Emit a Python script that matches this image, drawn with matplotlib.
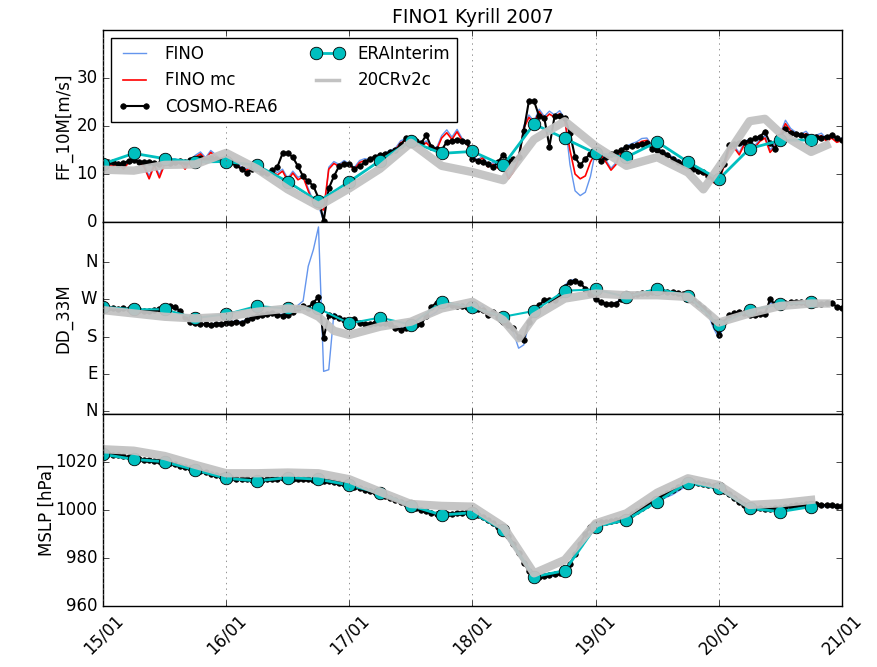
import numpy as np
import pandas as pd
import matplotlib
matplotlib.use('Agg')
import matplotlib.pyplot as plt
import matplotlib.dates as mdates
from matplotlib.lines import Line2D

plt.style.use('classic')
plt.rcParams['axes.formatter.useoffset'] = False

start = pd.Timestamp('2007-01-15 00:00')

# hourly station / COSMO series, 6-hourly reanalyses
hours = np.arange(145)
era_hours = np.arange(0, 139, 6)

fino_mc_ff = [12.3, 12.0, 11.6, 12.2, 11.0, 12.4, 12.8, 12.5, 11.5, 9.0, 11.8, 9.2,
              12.0, 12.5, 12.8, 12.4, 11.0, 12.6, 13.5, 14.2, 13.0, 14.5, 13.6, 12.8,
              12.6, 12.4, 11.8, 11.2, 10.8, 11.5, 10.9, 11.0, 10.0, 10.5, 9.8, 10.6,
              8.6, 10.2, 8.8, 9.4, 6.5, 4.0, 3.0, 2.5, 11.0, 12.2, 11.6, 12.4,
              11.8, 11.0, 12.4, 12.8, 12.6, 13.2, 13.6, 14.0, 14.5, 15.0, 16.5, 17.0,
              16.4, 16.0, 15.8, 16.5, 15.5, 15.0, 17.5, 18.6, 17.2, 18.8, 17.0, 16.2,
              13.5, 12.5, 13.4, 11.5, 12.0, 11.2, 11.8, 9.0, 10.5, 13.0, 19.5, 21.8,
              20.5, 23.0, 21.5, 22.5, 21.8, 22.6, 21.0, 15.0, 10.0, 9.0, 9.6, 12.5,
              14.5, 14.0, 12.5, 10.8, 12.0, 14.8, 15.4, 15.8, 16.2, 16.8, 17.0, 15.5,
              15.0, 14.4, 13.8, 13.2, 12.6, 12.0, 11.4, 11.0, 10.4, 10.0, 9.5, 8.2,
              8.6, 11.5, 15.0, 15.5, 14.0, 16.2, 16.8, 15.5, 16.8, 17.5, 14.5, 15.8,
              18.0, 20.5, 19.0, 18.2, 17.8, 18.4, 17.2, 17.6, 18.0, 16.8, 17.5, 16.6,
              17.0]

fino_ff = [12.6, 12.3, 11.9, 12.5, 11.4, 12.7, 13.1, 12.8, 11.9, 9.6, 12.1, 9.8,
           12.3, 12.8, 13.2, 12.7, 11.5, 12.9, 13.9, 14.6, 13.4, 14.9, 14.0, 13.1,
           12.9, 12.7, 12.1, 11.5, 11.1, 11.8, 11.3, 11.4, 10.4, 10.9, 10.3, 11.0,
           9.1, 10.6, 9.3, 9.8, 7.0, 4.4, 3.3, 0.3, 11.4, 12.6, 12.0, 12.8,
           12.1, 11.4, 12.8, 13.2, 13.0, 13.6, 14.0, 14.4, 14.9, 15.4, 16.9, 17.4,
           16.8, 16.4, 16.2, 16.9, 15.9, 15.4, 18.0, 19.2, 17.7, 19.3, 17.4, 16.6,
           13.9, 12.9, 13.8, 11.9, 12.4, 11.6, 12.2, 9.5, 10.9, 13.4, 20.0, 22.3,
           21.0, 23.5, 22.0, 23.1, 22.3, 23.2, 21.5, 12.0, 6.5, 5.5, 6.2, 9.5,
           14.9, 14.4, 12.9, 11.2, 12.4, 15.2, 15.8, 16.3, 16.7, 17.4, 17.5, 15.9,
           15.4, 14.8, 14.2, 13.6, 13.0, 12.4, 11.8, 11.4, 10.8, 10.4, 9.9, 8.6,
           9.0, 11.9, 15.4, 15.9, 14.4, 16.7, 17.3, 15.9, 17.2, 18.0, 15.0, 16.3,
           18.5, 21.2, 19.5, 18.7, 18.3, 18.9, 17.7, 18.1, 18.5, 17.3, 18.0, 17.1,
           17.5]

cosmo_ff = [12.3, 12.6, 12.4, 12.0, 12.2, 12.8, 13.0, 12.5, 12.4, 12.6, 12.3, 12.0,
            12.4, 12.2, 12.6, 12.8, 12.5, 12.9, 13.2, 13.4, 13.0, 13.3, 13.1, 12.9,
            12.8, 12.5, 11.8, 11.0, 10.3, 11.0, 11.6, 10.5, 10.2, 10.8, 11.5, 14.3,
            14.4, 13.5, 11.6, 9.5, 8.5, 7.5, 5.0, 0.2, 7.0, 9.5, 11.6, 12.0,
            12.1, 11.1, 11.6, 12.4, 13.2, 13.6, 14.0, 14.2, 14.6, 15.0, 16.0, 17.4,
            17.4, 16.8, 16.4, 18.1, 15.6, 15.2, 15.0, 16.7, 16.9, 17.0, 16.8, 16.7,
            13.2, 12.8, 12.5, 12.0, 11.4, 12.5, 14.0, 12.8, 13.2, 13.5, 19.0, 25.2,
            25.2, 22.0, 21.7, 15.7, 22.0, 22.0, 21.7, 18.5, 13.5, 11.8, 13.2, 14.2,
            14.0, 12.8, 13.5, 14.2, 14.6, 15.0, 15.7, 15.8, 16.0, 16.2, 16.4, 15.3,
            15.0, 14.6, 14.0, 13.2, 12.6, 12.1, 11.6, 11.1, 10.7, 10.4, 9.6, 9.0,
            8.9, 12.0, 16.0, 16.2, 16.4, 16.6, 17.0, 17.4, 17.8, 18.8, 16.4, 15.3,
            17.8, 19.3, 18.5, 18.3, 18.1, 18.0, 17.8, 17.8, 17.6, 17.8, 18.1, 17.5,
            17.0]

era_ff = [12.1, 14.3, 13.2, 12.5, 12.6, 11.8, 8.4, 4.3, 8.4, 12.8, 16.8, 14.3,
          14.7, 11.8, 20.4, 17.4, 14.3, 13.5, 16.7, 12.5, 8.9, 15.3, 17.0, 17.1]

cr_ff_hours = [0, 6, 12, 18, 24, 30, 36, 42, 48, 54, 60, 66, 72, 78, 84, 90, 96,
               102, 108, 114, 117, 120, 123, 126, 129, 132, 135, 138, 141]
cr_ff = [10.9, 10.7, 11.9, 12.0, 14.4, 11.1, 6.8, 3.3, 7.0, 11.1, 16.5, 11.7, 10.4,
         8.7, 17.2, 21.0, 15.8, 11.7, 13.5, 10.3, 6.8, 11.4, 16.2, 21.0, 21.5, 18.5,
         16.5, 14.6, 16.0]

# wind direction in degrees
cosmo_dd = [252, 250, 248, 247, 249, 246, 246, 244, 243, 242, 244, 246,
            248, 254, 252, 242, 228, 216, 212, 210, 210, 209, 210, 211,
            212, 214, 216, 212, 220, 226, 230, 232, 234, 236, 233, 230,
            232, 240, 248, 254, 250, 262, 276, 176, 232, 230, 226, 220,
            218, 222, 214, 210, 211, 212, 214, 212, 210, 202, 197, 200,
            204, 208, 210, 230, 252, 262, 264, 260, 256, 255, 254, 252,
            250, 246, 244, 232, 240, 228, 216, 208, 200, 180, 173, 216,
            240, 256, 268, 268, 268, 280, 300, 312, 315, 309, 296, 282,
            270, 264, 260, 258, 260, 270, 276, 280, 284, 285, 286, 287,
            289, 291, 289, 287, 286, 283, 276, 268, 260, 250, 238, 215,
            184, 215, 232, 236, 240, 236, 232, 232, 234, 235, 270, 258,
            260, 262, 264, 264, 264, 262, 260, 258, 260, 261, 261, 252,
            250]

fino_dd = [250, 249, 248, 248, 247, 246, 245, 244, 243, 243, 244, 246,
           248, 250, 249, 240, 228, 218, 214, 212, 211, 211, 212, 213,
           214, 216, 218, 216, 222, 228, 232, 234, 236, 236, 234, 234,
           238, 244, 256, 266, 350, 390, 445, 96, 100, 236, 228, 222,
           220, 222, 216, 212, 212, 213, 214, 213, 211, 205, 200, 202,
           206, 210, 214, 226, 232, 240, 258, 258, 256, 255, 254, 252,
           250, 248, 256, 236, 238, 226, 214, 204, 190, 152, 160, 210,
           236, 254, 266, 270, 272, 284, 304, 316, 318, 310, 296, 282,
           268, 262, 258, 258, 262, 272, 278, 282, 284, 286, 287, 288,
           290, 291, 289, 287, 285, 282, 274, 266, 256, 246, 232, 200,
           176, 205, 228, 234, 238, 234, 230, 230, 232, 234, 262, 256,
           258, 260, 262, 262, 262, 260, 258, 256, 258, 258, 258, 254,
           250]

era_dd = [252, 246, 246, 225, 234, 254, 248, 248, 212, 226, 209, 264,
          251, 228, 242, 291, 294, 276, 296, 279, 208, 244, 258, 263]

cr_dd_hours = [0, 6, 12, 18, 24, 30, 36, 39, 42, 45, 48, 54, 60, 66, 72, 78, 81,
               84, 90, 96, 102, 108, 114, 117, 120, 126, 132, 138, 141]
cr_dd = [244, 236, 228, 224, 228, 240, 248, 246, 228, 194, 184, 204, 216, 248,
         264, 220, 176, 228, 272, 284, 280, 280, 276, 246, 214, 236, 254, 260, 260]

# mean sea level pressure
cosmo_p = [1023.6, 1023.4, 1023.1, 1022.8, 1022.4, 1022.0, 1021.6,
           1021.3, 1021.0, 1020.8, 1020.6, 1020.4, 1020.1,
           1019.6, 1019.0, 1018.4, 1017.9, 1017.4, 1016.9,
           1016.3, 1015.7, 1015.1, 1014.5, 1014.0, 1013.5,
           1013.3, 1013.1, 1012.9, 1012.7, 1012.6, 1012.5,
           1012.6, 1012.8, 1013.0, 1013.1, 1013.2, 1013.2,
           1013.1, 1013.0, 1012.9, 1012.8, 1012.6, 1012.4,
           1012.2, 1011.9, 1011.6, 1011.2, 1010.8, 1010.3,
           1009.7, 1009.1, 1008.5, 1007.9, 1007.3, 1006.7,
           1005.9, 1005.0, 1004.2, 1003.4, 1002.5, 1001.6,
           1000.7, 1000.0, 999.4, 998.9, 998.5, 998.2,
           998.3, 998.5, 998.7, 998.9, 999.0, 998.8,
           998.0, 997.0, 995.8, 994.5, 993.0, 991.5,
           989.0, 986.0, 982.0, 978.0, 974.5, 972.3,
           972.0, 972.4, 972.8, 973.2, 973.6, 974.5,
           977.5, 981.5, 986.0, 990.0, 993.0, 994.4,
           994.8, 995.1, 995.4, 995.8, 996.3, 997.0,
           998.2, 999.5, 1000.8, 1002.0, 1003.2, 1004.4,
           1005.7, 1007.0, 1008.3, 1009.6, 1010.8, 1011.6,
           1011.5, 1011.2, 1010.8, 1010.4, 1009.9, 1009.2,
           1008.0, 1006.5, 1005.0, 1003.5, 1002.2, 1001.2,
           1000.9, 1000.7, 1000.6, 1000.6, 1000.8, 1001.0,
           1001.3, 1001.6, 1001.9, 1002.1, 1002.3, 1002.4,
           1002.3, 1002.2, 1002.0, 1001.9, 1001.7, 1001.5]

fino_p_hours = np.arange(0, 145, 3)
fino_p = [1023.0, 1022.3, 1021.0, 1020.3, 1019.7, 1017.8, 1016.4, 1014.6, 1013.0,
          1012.4, 1012.0, 1012.5, 1012.7, 1012.4, 1012.0, 1011.0, 1009.8, 1008.0,
          1006.2, 1003.6, 1001.0, 998.8, 997.6, 998.0, 998.3, 995.2, 990.8, 981.2,
          971.6, 972.0, 973.8, 985.2, 993.6, 994.6, 995.6, 999.8, 1003.6, 1006.4,
          1010.4, 1010.6, 1009.4, 1005.8, 1001.6, 1000.0, 1000.2, 1001.2, 1001.6,
          1001.4, 1001.0]

era_p = [1023.2, 1021.1, 1020.1, 1016.7, 1013.2, 1012.1, 1013.5, 1012.8, 1010.4,
         1007.0, 1001.8, 997.9, 998.9, 991.7, 972.2, 974.7, 993.1, 995.8, 1003.5,
         1011.4, 1009.0, 1000.7, 999.3, 1001.4]

cr_p = [1025.3, 1024.7, 1022.5, 1018.8, 1015.3, 1015.3, 1015.6, 1015.3, 1012.8,
        1007.6, 1002.5, 1001.7, 1001.4, 993.1, 973.6, 979.2, 994.4, 998.6, 1007.2,
        1013.2, 1010.4, 1002.1, 1002.8, 1004.2]


def t(h):
    return start + pd.to_timedelta(np.asarray(h), unit='h')


fig = plt.figure(figsize=(8.77, 6.67), dpi=100, facecolor='w')
fig.subplots_adjust(left=0.1174, right=0.960, top=0.955, bottom=0.0915, hspace=0)
ax1 = fig.add_subplot(3, 1, 1)
ax2 = fig.add_subplot(3, 1, 2, sharex=ax1)
ax3 = fig.add_subplot(3, 1, 3, sharex=ax1)

cosmo_kw = dict(color='k', lw=1.5, marker='o', ms=4, mec='k')
era_kw = dict(color='c', lw=2, marker='o', ms=9, mec='k', mew=0.6)
cr_kw = dict(color='0.76', lw=6, alpha=0.95)

# wind speed
ax1.plot(t(hours), fino_ff, color='cornflowerblue', lw=1)
ax1.plot(t(hours), fino_mc_ff, color='r', lw=1.2)
ax1.plot(t(hours), cosmo_ff, **cosmo_kw)
ax1.plot(t(era_hours), era_ff, **era_kw)
ax1.plot(t(cr_ff_hours), cr_ff, **cr_kw)
ax1.set_ylim(0, 40)
ax1.set_yticks([0, 10, 20, 30])
ax1.set_ylabel('FF_10M[m/s]')
ax1.yaxis.set_label_coords(-0.041, 0.5)
ax1.set_title('FINO1 Kyrill 2007', fontsize=13.5)

handles = [Line2D([], [], color='cornflowerblue', lw=1),
           Line2D([], [], color='r', lw=1.2),
           Line2D([], [], **cosmo_kw),
           Line2D([], [], **era_kw),
           Line2D([], [], color='0.76', lw=2.5)]
labels = ['FINO', 'FINO mc', 'COSMO-REA6', 'ERAInterim', '20CRv2c']
ax1.legend(handles, labels, loc='upper left', ncol=2, fontsize=12, numpoints=2)

# wind direction
ax2.plot(t(hours), fino_dd, color='cornflowerblue', lw=1)
ax2.plot(t(hours), cosmo_dd, **cosmo_kw)
ax2.plot(t(era_hours), era_dd, color='c', lw=1.5, marker='o', ms=9, mec='k', mew=0.6)
ax2.plot(t(cr_dd_hours), cr_dd, **cr_kw)
ax2.set_ylim(-7, 457)
ax2.set_yticks([0, 90, 180, 270, 360])
ax2.set_yticklabels(['N', 'E', 'S', 'W', 'N'])
ax2.set_ylabel('DD_33M')
ax2.yaxis.set_label_coords(-0.041, 0.5)

# pressure
ax3.plot(t(fino_p_hours), fino_p, color='cornflowerblue', lw=1)
ax3.plot(t(hours), cosmo_p, **cosmo_kw)
ax3.plot(t(era_hours), era_p, **era_kw)
ax3.plot(t(era_hours), cr_p, **cr_kw)
ax3.set_ylim(960, 1040)
ax3.set_yticks([960, 980, 1000, 1020])
ax3.set_ylabel('MSLP [hPa]')
ax3.yaxis.set_label_coords(-0.064, 0.5)

for ax in (ax1, ax2, ax3):
    ax.xaxis.grid(True, color='0.4', linestyle=':')
    ax.yaxis.grid(False)
ax3.set_xlim(pd.Timestamp('2007-01-15'), pd.Timestamp('2007-01-21'))
ax3.xaxis.set_major_locator(mdates.DayLocator())
ax3.xaxis.set_major_formatter(mdates.DateFormatter('%d/%m'))
plt.setp(ax1.get_xticklabels(), visible=False)
plt.setp(ax2.get_xticklabels(), visible=False)
plt.setp(ax3.get_xticklabels(), rotation=45)

fig.savefig('out.png', dpi=100, facecolor='w')
